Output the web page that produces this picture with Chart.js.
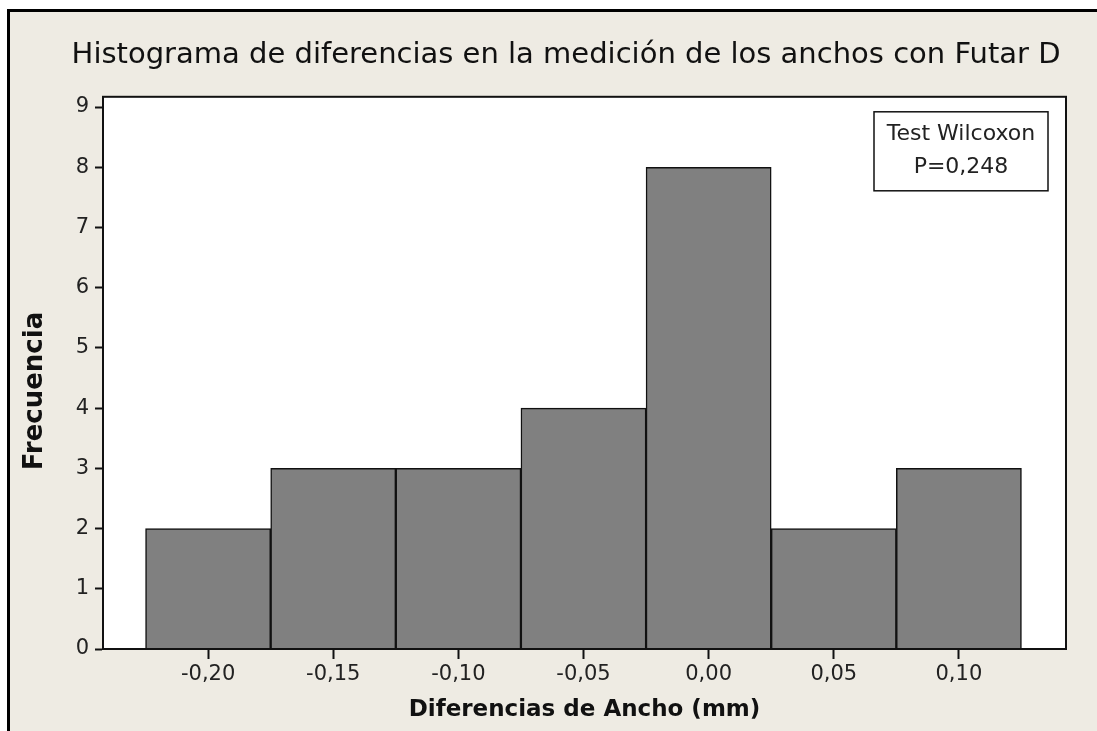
<!DOCTYPE html>
<html lang="es">
<head>
    <meta charset="UTF-8">
    <title>Histograma de diferencias</title>
    <script src="https://cdn.jsdelivr.net/npm/chart.js"></script>
    <style>
        html, body {
            margin: 0;
            padding: 0;
            background: white;
            overflow: hidden;
        }
        .frame {
            position: absolute;
            left: 7px;
            top: 9px;
            width: 1090px;
            height: 722px;
            background: #eeebe3;
            border-top: 3px solid black;
            border-left: 3px solid black;
            box-sizing: border-box;
        }
        .chart-box {
            position: absolute;
            left: 0;
            top: 0;
            width: 1097px;
            height: 731px;
        }
    </style>
</head>
<body>
    <div class="frame"></div>
    <div class="chart-box"><canvas id="histChart"></canvas></div>

    <script>
    // bin centres and counts
    const binCenters = [-0.20, -0.15, -0.10, -0.05, 0.00, 0.05, 0.10];
    const counts = [2, 3, 3, 4, 8, 2, 3];
    const xTickValues = [-0.20, -0.15, -0.10, -0.05, 0.00, 0.05, 0.10];
    const yTickValues = [0, 1, 2, 3, 4, 5, 6, 7, 8, 9];
    const noteLines = ['Test Wilcoxon', 'P=0,248'];

    const FONT = '"DejaVu Sans", sans-serif';

    // white plot area + box round it + the Wilcoxon note
    const plotFrame = {
        id: 'plotFrame',
        beforeDatasetsDraw(chart) {
            const { ctx, chartArea: a } = chart;
            ctx.save();
            ctx.fillStyle = 'white';
            ctx.fillRect(a.left, a.top, a.right - a.left, a.bottom - a.top);
            ctx.restore();
        },
        afterDraw(chart) {
            const { ctx, chartArea: a } = chart;
            ctx.save();
            ctx.strokeStyle = '#111';
            ctx.lineWidth = 2;
            ctx.strokeRect(a.left, a.top, a.right - a.left, a.bottom - a.top);

            // note box
            const bx = a.right - 192, by = a.top + 15, bw = 174, bh = 79;
            ctx.fillStyle = 'white';
            ctx.fillRect(bx, by, bw, bh);
            ctx.lineWidth = 1.5;
            ctx.strokeRect(bx, by, bw, bh);
            ctx.fillStyle = '#222';
            ctx.font = '22px ' + FONT;
            ctx.textAlign = 'center';
            ctx.textBaseline = 'middle';
            ctx.fillText(noteLines[0], bx + bw / 2, by + 22);
            ctx.fillText(noteLines[1], bx + bw / 2, by + 55);
            ctx.restore();
        }
    };

    const fmt = v => (Math.abs(v) < 1e-9 ? 0 : v).toFixed(2).replace('.', ',');

    new Chart(document.getElementById('histChart'), {
        type: 'bar',
        data: {
            datasets: [{
                data: binCenters.map((x, i) => ({ x: x, y: counts[i] })),
                backgroundColor: '#808080',
                borderColor: '#111',
                borderWidth: 1.5,
                barPercentage: 1,
                categoryPercentage: 1
            }]
        },
        options: {
            responsive: true,
            maintainAspectRatio: false,
            animation: false,
            layout: {
                padding: { left: 20, right: 31, top: 0, bottom: 0 }
            },
            plugins: {
                legend: { display: false },
                tooltip: { enabled: false },
                title: {
                    display: true,
                    // leading spaces nudge the title right, as in the original
                    text: '     Histograma de diferencias en la medición de los anchos con Futar D',
                    color: '#111',
                    font: { family: FONT, size: 29, weight: 'normal' },
                    padding: { top: 38, bottom: 24 }
                }
            },
            scales: {
                x: {
                    type: 'linear',
                    offset: false,
                    min: -0.242,
                    max: 0.1428,
                    afterBuildTicks: s => { s.ticks = xTickValues.map(v => ({ value: v })); },
                    afterFit: s => { s.height = 82; },
                    ticks: {
                        color: '#222',
                        font: { family: FONT, size: 21 },
                        padding: 3,
                        callback: v => fmt(v)
                    },
                    grid: {
                        offset: false,
                        drawOnChartArea: false,
                        drawTicks: true,
                        tickLength: 10,
                        tickWidth: 2,
                        tickColor: '#111'
                    },
                    border: { display: true, color: '#111', width: 2 },
                    title: {
                        display: true,
                        text: 'Diferencias de Ancho (mm)',
                        color: '#111',
                        font: { family: FONT, size: 23, weight: 'bold' },
                        padding: { top: 0, bottom: 7 }
                    }
                },
                y: {
                    min: 0,
                    max: 9.17,
                    afterBuildTicks: s => { s.ticks = yTickValues.map(v => ({ value: v })); },
                    afterFit: s => { s.width = 83; },
                    ticks: {
                        color: '#222',
                        font: { family: FONT, size: 21 },
                        padding: 6
                    },
                    grid: {
                        drawOnChartArea: false,
                        drawTicks: true,
                        tickLength: 8,
                        tickWidth: 2,
                        tickColor: '#111'
                    },
                    border: { display: true, color: '#111', width: 2 },
                    title: {
                        display: true,
                        // trailing spaces push the label a little lower
                        text: 'Frecuencia    ',
                        color: '#111',
                        font: { family: FONT, size: 26, weight: 'bold' },
                        padding: { top: 0, bottom: 0 }
                    }
                }
            }
        },
        plugins: [plotFrame]
    });
    </script>
</body>
</html>
